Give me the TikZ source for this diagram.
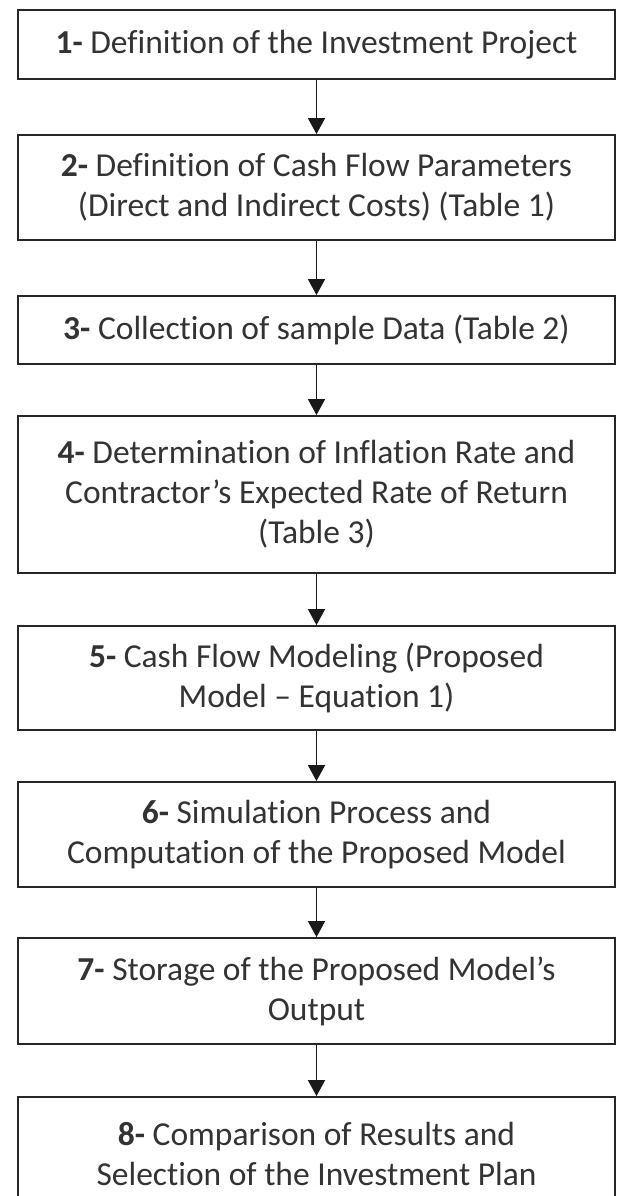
\documentclass[tikz,border=0pt]{standalone}
\usepackage{fontspec}
\setmainfont{Carlito}[Ligatures=NoCommon]
\usetikzlibrary{arrows.meta}
\begin{document}
\begin{tikzpicture}[x=1pt,y=1pt,
  stepbox/.style={draw=black!85, line width=1.8pt, align=center, text=black!80,
    font=\fontsize{33.5}{40}\selectfont, inner sep=0pt, minimum width=597pt},
  flow/.style={-{Triangle[length=16pt,width=17pt]}, line width=1.6pt, draw=black!90}]
\clip (0,0) rectangle (617,-1196);
\fill[white] (0,0) rectangle (617,-1196);

\node[stepbox, minimum height=69pt]  (s1) at (316.5,-44.5)  {\textbf{1-} Definition of the Investment Project};
\node[stepbox, minimum height=105pt] (s2) at (316.5,-187.5) {\textbf{2-} Definition of Cash Flow Parameters\\(Direct and Indirect Costs) (Table 1)};
\node[stepbox, minimum height=68pt]  (s3) at (316.5,-330)   {\textbf{3-} Collection of sample Data (Table 2)};
\node[stepbox, minimum height=157pt] (s4) at (316.5,-494.5) {\textbf{4-} Determination of Inflation Rate and\\Contractor’s Expected Rate of Return\\(Table 3)};
\node[stepbox, minimum height=104pt] (s5) at (316.5,-678)   {\textbf{5-} Cash Flow Modeling (Proposed\\Model – Equation 1)};
\node[stepbox, minimum height=105pt] (s6) at (316.5,-834.5) {\textbf{6-} Simulation Process and\\Computation of the Proposed Model};
\node[stepbox, minimum height=106pt] (s7) at (316.5,-991)   {\textbf{7-} Storage of the Proposed Model’s\\Output};
\node[stepbox, minimum height=114pt] (s8) at (316.5,-1154)  {\textbf{8-} Comparison of Results and\\Selection of the Investment Plan};

\foreach \a/\b in {s1/s2,s2/s3,s3/s4,s4/s5,s5/s6,s6/s7,s7/s8}
  \draw[flow] (\a.south) -- (\b.north);
\end{tikzpicture}
\end{document}
